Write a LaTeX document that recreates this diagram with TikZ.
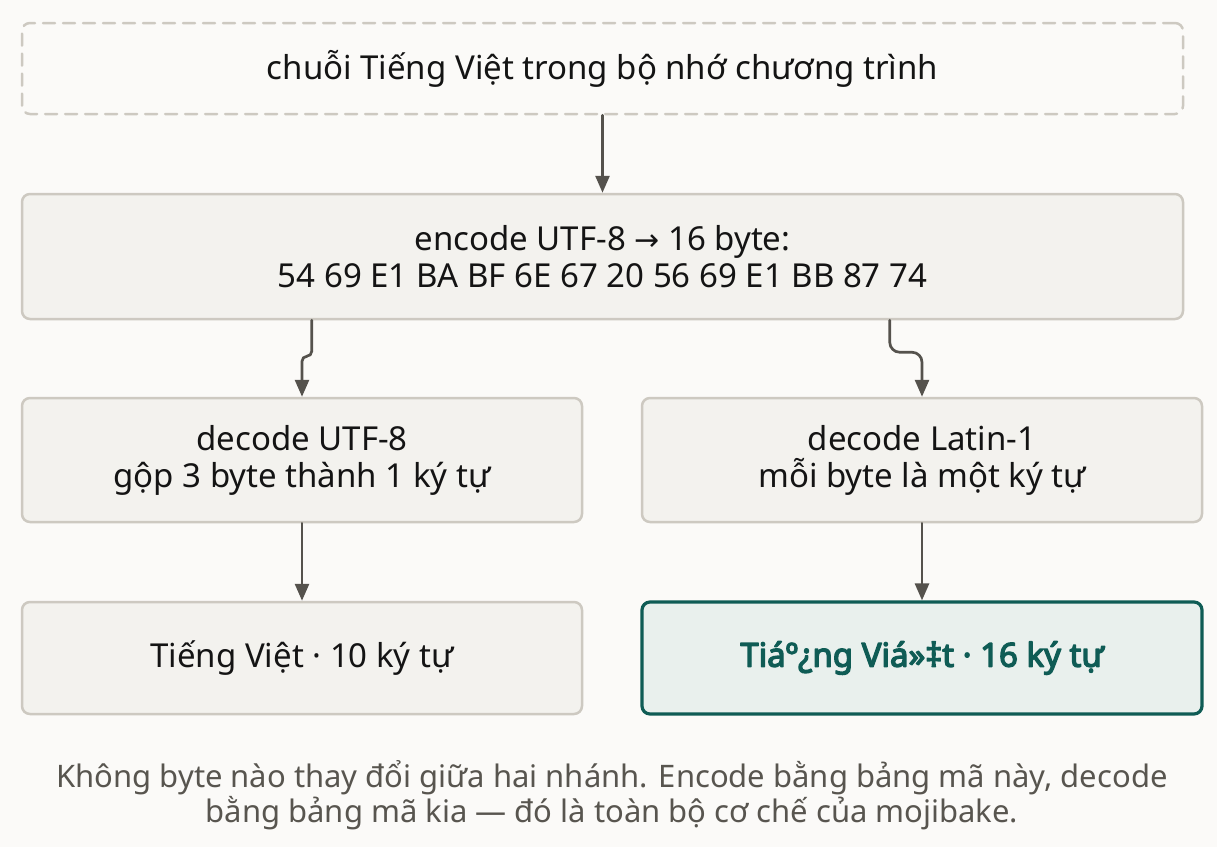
\documentclass[tikz,border=0pt]{standalone}
\usepackage{fontspec}
\setmainfont{Noto Sans}[AutoFakeBold=4]
\newfontfamily\symfont{DejaVu Sans}
\usetikzlibrary{arrows.meta,calc}

\definecolor{paperbg}{HTML}{FBFAF8}
\definecolor{boxfill}{HTML}{F3F2EE}
\definecolor{boxline}{HTML}{CDC9C1}
\definecolor{flowgray}{HTML}{55524D}
\definecolor{tealdark}{HTML}{0F5C55}
\definecolor{tealfill}{HTML}{E9F0ED}
\definecolor{notegray}{HTML}{58554F}

\begin{document}
\begin{tikzpicture}[x=1pt, y=-1pt, line cap=round, line join=round,
  box/.style={draw=boxline, fill=boxfill, line width=2.5pt, rounded corners=8pt,
    inner sep=0pt, align=center, text=black!92, font=\fontsize{33}{37}\selectfont},
  flow/.style={draw=flowgray, line width=2.7pt, -{Triangle[length=17pt,width=14pt]}}]

% --- Paper (fixes the margins) ---
\fill[paperbg] (0,0) rectangle (1217,847);

% --- Common box sizes ---
\def\wide{1161}   % full width boxes
\def\half{560}    % branch boxes

% --- String in memory (dashed) ---
\node[box, fill=paperbg, dash pattern=on 12pt off 8pt, minimum width=\wide, minimum height=91]
  (src) at (602.5,68.5) {chuỗi Tiếng Việt trong bộ nhớ chương trình};

% --- Encode step ---
\node[box, minimum width=\wide, minimum height=125]
  (enc) at (602.5,256.5) {encode UTF-8 {\symfont\fontsize{30}{37}\selectfont →} 16 byte:\\54 69 E1 BA BF 6E 67 20 56 69 E1 BB 87 74};

% --- Two decode branches ---
\node[box, minimum width=\half, minimum height=124] (utf) at (302,460) {decode UTF-8\\gộp 3 byte thành 1 ký tự};
\node[box, minimum width=\half, minimum height=124] (lat) at (922,460) {decode Latin-1\\mỗi byte là một ký tự};

% --- Results ---
\node[box, minimum width=\half, minimum height=112] (good) at (302,658) {Tiếng Việt · 10 ký tự};
\node[box, draw=tealdark, fill=tealfill, line width=3.2pt, text=tealdark, minimum width=\half, minimum height=112]
  (bad) at (922,658) {\bfseries Tiáº¿ng Viá»‡t · 16 ký tự};

% --- Connectors ---
\draw[flow] (src.south) -- (enc.north);
\draw[flow, rounded corners=5pt] ($(enc.south west)+(291,0)$) -- ++(0,36) -| (utf.north);
\draw[flow, rounded corners=10pt] ($(enc.south west)+(869,0)$) -- ++(0,32) -| (lat.north);
\draw[flow] (utf.south) -- (good.north);
\draw[flow] (lat.south) -- (bad.north);

% --- Caption ---
\node[align=center, text=notegray, font=\fontsize{31}{35}\selectfont] (note) at (612,795)
  {Không byte nào thay đổi giữa hai nhánh. Encode bằng bảng mã này, decode\\bằng bảng mã kia — đó là toàn bộ cơ chế của mojibake.};

\end{tikzpicture}
\end{document}
